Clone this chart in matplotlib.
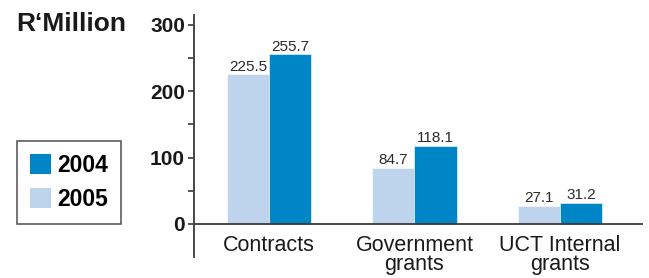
import numpy as np
import matplotlib
matplotlib.use('Agg')
import matplotlib.pyplot as plt
from matplotlib.patches import Patch

plt.rcParams['font.family'] = ['Liberation Sans', 'DejaVu Sans']

# data
categories = ['Contracts', 'Government\ngrants', 'UCT Internal\ngrants']
vals_2005 = [225.5, 84.7, 27.1]
vals_2004 = [255.7, 118.1, 31.2]
series_names = ['2004', '2005']

c_dark = '#0085c6'
c_light = '#bdd4ec'
c_axis = '#3a3a3a'

fig = plt.figure(figsize=(6.49, 2.78), dpi=100)
ax = fig.add_axes([194 / 649, 1 - 257 / 278, (643 - 194) / 649, (257 - 15) / 278])

x = np.arange(len(categories))
w = 0.29
b1 = ax.bar(x - w / 2, vals_2005, w, color=c_light, edgecolor='white', linewidth=0.4)
b2 = ax.bar(x + w / 2, vals_2004, w, color=c_dark, edgecolor='white', linewidth=0.4)

# value labels
for bars, vals in [(b1, vals_2005), (b2, vals_2004)]:
    for r, v in zip(bars, vals):
        ax.annotate('%.1f' % v, (r.get_x() + r.get_width() / 2, v),
                    xytext=(0, 0.5), textcoords='offset points',
                    ha='center', va='bottom', fontsize=11, color='#2a2a2a')

# category labels under zero line
for i, lab in enumerate(categories):
    ax.annotate(lab, (x[i], 0), xytext=(0, -8), textcoords='offset points',
                ha='center', va='top', fontsize=15.5, color='#1a1a1a',
                linespacing=0.9)

ax.set_xlim(-0.515, 2.57)
ax.set_ylim(-50, 315)
ax.axhline(0, color=c_axis, lw=1.3, zorder=3)

for s in ['top', 'right', 'bottom']:
    ax.spines[s].set_visible(False)
ax.spines['left'].set_color(c_axis)
ax.spines['left'].set_linewidth(1.3)

ax.set_xticks([])
ax.set_yticks([0, 100, 200, 300])
ax.set_yticks([50, 150, 250], minor=True)
ax.tick_params(axis='y', which='both', length=4.5, width=1.2, color=c_axis,
               direction='out', pad=2)
for t in ax.get_yticklabels():
    t.set_fontweight('bold')
    t.set_fontsize(15)
    t.set_color('#1a1a1a')

fig.text(16 / 649, 1 - 24 / 278, 'R\u2018Million', fontsize=19, fontweight='bold',
         ha='left', va='center', color='#1a1a1a')

handles = [Patch(facecolor=c_dark, edgecolor='none'),
           Patch(facecolor=c_light, edgecolor='none')]
leg = fig.legend(handles, series_names, loc='upper left',
                 bbox_to_anchor=(17 / 649, 1 - 141 / 278), borderaxespad=0,
                 handlelength=0.95, handleheight=0.95, handletextpad=0.25,
                 labelspacing=0.5, borderpad=0.55, fancybox=False,
                 prop={'weight': 'bold', 'size': 16.5})
leg.get_frame().set_edgecolor('#333333')
leg.get_frame().set_linewidth(1.2)

fig.savefig('out.png', dpi=100)
